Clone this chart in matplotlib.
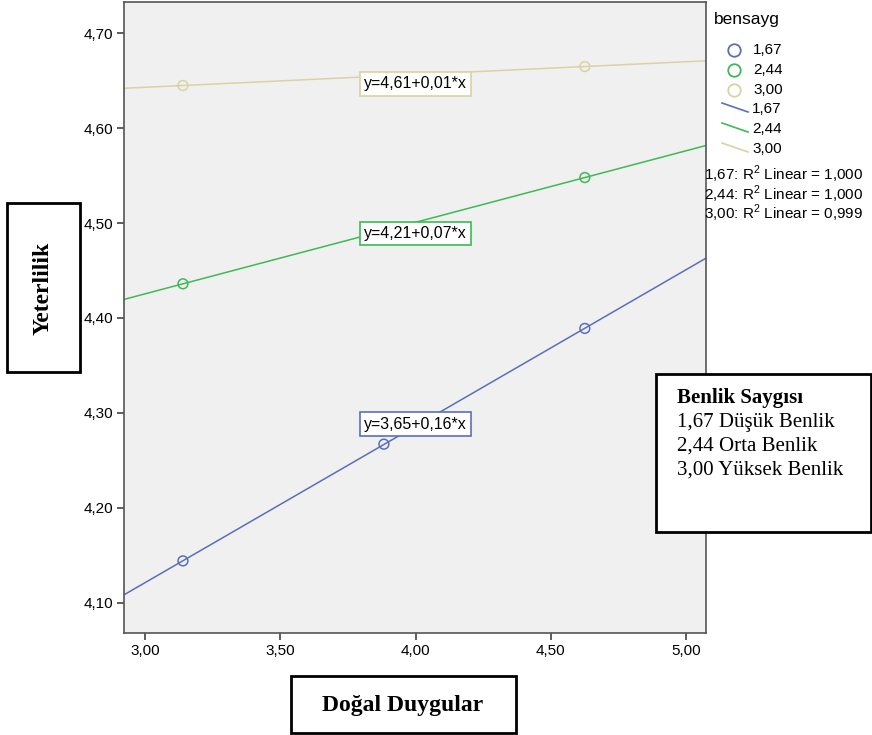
import numpy as np
import matplotlib.pyplot as plt
from matplotlib.lines import Line2D
from matplotlib.patches import Rectangle

# Yeterlilik vs Dogal Duygular by bensayg groups (SPSS style chart)

plt.rcParams['mathtext.fontset'] = 'custom'
plt.rcParams['mathtext.rm'] = 'Liberation Sans'

groups = ['1,67', '2,44', '3,00']
colors = ['#5a6fba', '#3dba55', '#d8d3a2']
x_pts = {'1,67': [3.14, 3.883, 4.626],
         '2,44': [3.14, 4.626],
         '3,00': [3.14, 4.626]}
y_pts = {'1,67': [4.144, 4.267, 4.389],
         '2,44': [4.436, 4.548],
         '3,00': [4.645, 4.665]}
equations = ['y=3,65+0,16*x', 'y=4,21+0,07*x', 'y=4,61+0,01*x']
eq_y = [4.288, 4.489, 4.647]
r2_values = ['1,000', '1,000', '0,999']
xticks = [3.0, 3.5, 4.0, 4.5, 5.0]
yticks = [4.1, 4.2, 4.3, 4.4, 4.5, 4.6, 4.7]
xlim = (2.922, 5.074)
ylim = (4.068, 4.733)

W, H = 872, 735
fig = plt.figure(figsize=(W / 100, H / 100), dpi=100)
ax = fig.add_axes([124 / W, 1 - 633 / H, 582 / W, 631 / H])
ax.set_facecolor('#f0f0f0')
for s in ax.spines.values():
    s.set_color('#555555')
    s.set_linewidth(1.2)

xs_line = np.array(xlim)
for g, c, eq, ey in zip(groups, colors, equations, eq_y):
    k, b = np.polyfit(x_pts[g], y_pts[g], 1)
    ax.plot(xs_line, k * xs_line + b, color=c, lw=1.1, zorder=2)
    ax.scatter(x_pts[g], y_pts[g], s=50, facecolors='none', edgecolors=c, linewidths=1.1, zorder=3)
    ax.text(4.0, ey, eq, ha='center', va='center', fontsize=11.5, family='Liberation Sans', zorder=4,
            bbox=dict(boxstyle='square,pad=0.28', facecolor='white', edgecolor=c, lw=1.2))

ax.set_xlim(*xlim)
ax.set_ylim(*ylim)
ax.set_xticks(xticks)
ax.set_yticks(yticks)
ax.set_xticklabels([f'{v:.2f}'.replace('.', ',') for v in xticks], family='Liberation Sans', fontsize=11)
ax.set_yticklabels([f'{v:.2f}'.replace('.', ',') for v in yticks], family='Liberation Sans', fontsize=11)
ax.tick_params(direction='out', length=5, color='#333333', width=1.1, pad=3)

# overlay in pixel coordinates for legend and boxes
ov = fig.add_axes([0, 0, 1, 1], facecolor='none')
ov.set_xlim(0, W)
ov.set_ylim(H, 0)
ov.axis('off')

ov.text(714, 19, 'bensayg', fontsize=12.5, family='Liberation Sans', va='center', ha='left')
for i, (g, c) in enumerate(zip(groups, colors)):
    y = 50 + i * 20
    ov.add_line(Line2D([734], [y], marker='o', markersize=9, mfc='none', mec=c, mew=1.3))
    ov.text(753, y, g, fontsize=11, family='Liberation Sans', va='center')
    y2 = 109 + i * 20
    ov.add_line(Line2D([722, 748], [y2 - 6, y2 + 3], color=c, lw=1.2))
    ov.text(752, y2, g, fontsize=11, family='Liberation Sans', va='center')
for i, (g, r) in enumerate(zip(groups, r2_values)):
    ov.text(704, 180 + i * 19.5, g + ': R$^{2}$ Linear = ' + r, fontsize=11,
            family='Liberation Sans', va='baseline')

ov.add_patch(Rectangle((7, 203), 73, 169, facecolor='white', edgecolor='black', lw=2, zorder=5))
ov.text(43, 288, 'Yeterlilik', rotation=90, ha='center', va='center', fontsize=17,
        fontweight='bold', family='Liberation Serif', zorder=6)

ov.add_patch(Rectangle((291, 676), 225, 57, facecolor='white', edgecolor='black', lw=2, zorder=5))
ov.text(403, 705, 'Doğal Duygular', ha='center', va='center', fontsize=17,
        fontweight='bold', family='Liberation Serif', zorder=6)

ov.add_patch(Rectangle((656, 374), 215, 158, facecolor='white', edgecolor='black', lw=2, zorder=5))
ov.text(677, 398, 'Benlik Saygısı', ha='left', va='center', fontsize=15,
        fontweight='bold', family='Liberation Serif', zorder=6)
for i, t in enumerate(['1,67 Düşük Benlik', '2,44 Orta Benlik', '3,00 Yüksek Benlik']):
    ov.text(677, 422 + i * 24, t, ha='left', va='center', fontsize=15,
            family='Liberation Serif', zorder=6)

fig.savefig('out.png', dpi=100)
